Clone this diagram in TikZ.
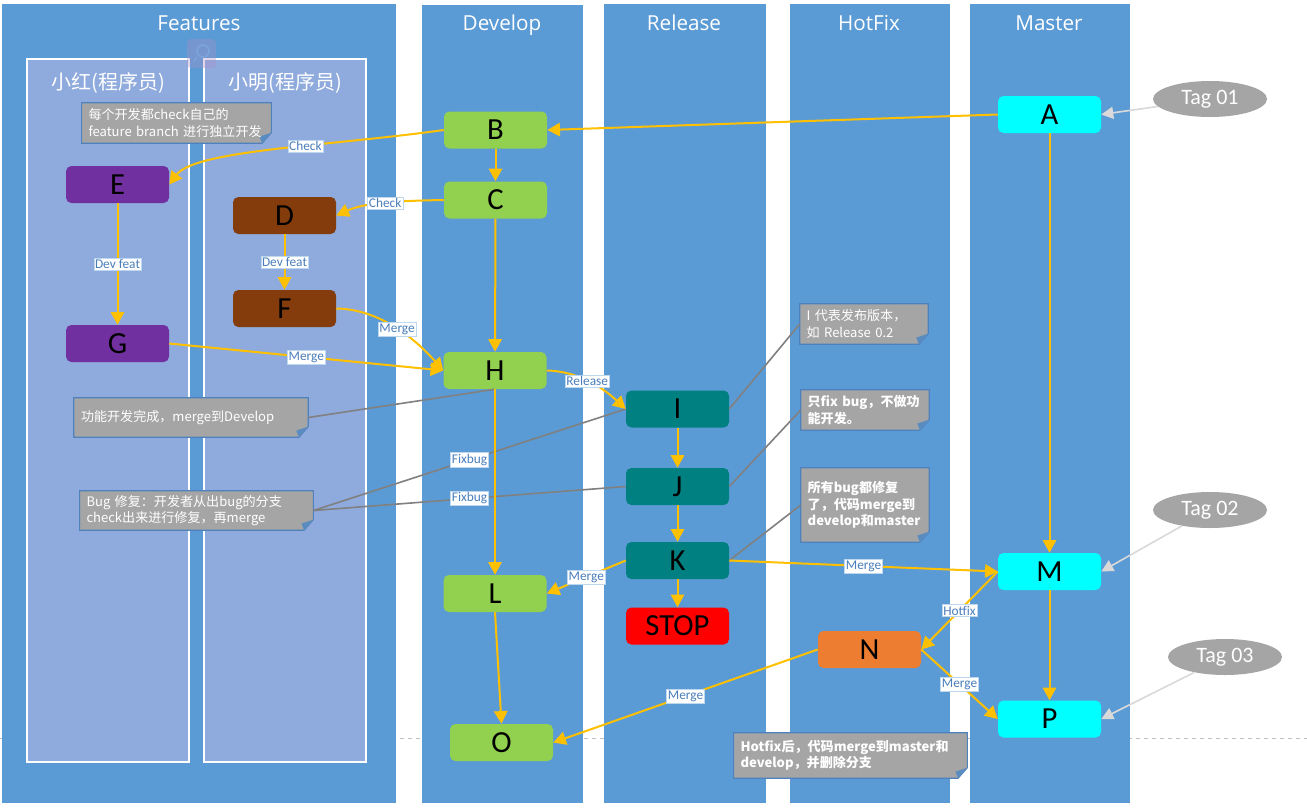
\documentclass[tikz,border=0pt]{standalone}
\usepackage{fontspec}
\setmainfont{Carlito}
\newfontfamily\cjk{Noto Sans CJK SC}
\newfontfamily\titlef{Open Sans}
\usetikzlibrary{arrows.meta,shapes.geometric}
\pgfdeclarelayer{lanes}
\pgfdeclarelayer{notebg}
\pgfsetlayers{lanes,notebg,main}
\definecolor{lanec}{HTML}{5B9BD5}
\definecolor{sublanec}{HTML}{8FAADC}
\definecolor{greenc}{HTML}{92D050}
\definecolor{purplec}{HTML}{7030A0}
\definecolor{brownc}{HTML}{843C0C}
\definecolor{tealc}{HTML}{008080}
\definecolor{redc}{HTML}{FF0000}
\definecolor{orangec}{HTML}{ED7D31}
\definecolor{cyanc}{HTML}{00FFFF}
\definecolor{flowc}{HTML}{FFC000}
\definecolor{linkc}{HTML}{808080}
\definecolor{notec}{HTML}{A5A5A5}
\definecolor{noteborder}{HTML}{4F81BD}
\definecolor{foldc}{HTML}{5B8CC0}
\definecolor{tagc}{HTML}{A5A5A5}
\definecolor{tagline}{HTML}{D9D9D9}
\definecolor{lbltext}{HTML}{4A7EBB}
\definecolor{lblborder}{HTML}{BDD7EE}
\definecolor{dashc}{HTML}{BFBFBF}
\definecolor{magc}{HTML}{A98FC8}
\definecolor{magline}{HTML}{7FB0E0}
\tikzset{
 box/.style={rectangle, rounded corners=4pt, minimum width=77.25pt, minimum height=27.75pt, inner sep=0pt, font=\fontsize{23}{24}\selectfont, text=black},
 flow/.style={draw=flowc, line width=1.5pt, -{Triangle[length=9.5pt,width=10pt]}},
 link/.style={draw=linkc, line width=1.2pt},
 lbl/.style={fill=white, draw=lblborder, line width=0.3pt, inner sep=1pt, text=lbltext, font=\fontsize{10}{11}\selectfont},
 tag/.style={ellipse, fill=tagc, minimum width=85.5pt, minimum height=27pt, inner sep=0pt, text=white, font=\fontsize{16.5}{17}\selectfont},
 tagarrow/.style={draw=tagline, line width=1.2pt, -{Triangle[length=9pt,width=9pt]}},
 note/.style={rectangle, inner xsep=5pt, inner ysep=2pt, text=white, align=left, font=\cjk\fontsize{9.8}{12.2}\selectfont},
 notefill/.style={fill=notec, draw=noteborder, line width=0.8pt},
 lanetitle/.style={anchor=base, text=white, font=\titlef\fontsize{15.5}{17}\selectfont},
 subtitle/.style={anchor=base, text=white, font=\cjk\fontsize{15}{17}\selectfont},
}
% name, cx, cy, width(pt), height(pt), text width(pt), text
\newcommand\mknote[7]{%
 \node[note, minimum width=#4pt, minimum height=#5pt, text width=#6pt] (#1) at (#2,#3) {#7};
 \begin{pgfonlayer}{notebg}
 \filldraw[notefill] (#1.north west) -- (#1.north east) -- ([yshift=8pt]#1.south east) -- ([xshift=-7pt]#1.south east) -- (#1.south west) -- cycle;
 \fill[foldc] ([yshift=8pt]#1.south east) -- ([xshift=-9pt,yshift=5pt]#1.south east) -- ([xshift=-7pt]#1.south east) -- cycle;
 \end{pgfonlayer}}
\begin{document}
\begin{tikzpicture}[x=0.75pt,y=-0.75pt]
\useasboundingbox (0,0) rectangle (1307,808);
\begin{pgfonlayer}{lanes}
\fill[white] (0,0) rectangle (1307,808);
\draw[dashc, dashed, line width=0.6pt] (0,738) -- (1307,738);
\fill[lanec] (2,4) rectangle (396,803);
\fill[lanec] (422,5) rectangle (583,803);
\fill[lanec] (604,4) rectangle (766,803);
\fill[lanec] (790,4) rectangle (950,803);
\fill[lanec] (970,4) rectangle (1130,803);
\filldraw[fill=sublanec, draw=white, line width=0.8pt] (27,59) rectangle (189,762);
\filldraw[fill=sublanec, draw=white, line width=0.8pt] (204,59) rectangle (366,762);
\fill[magc, opacity=0.35, rounded corners=3pt] (187,39) rectangle (216,68);
\draw[magline, opacity=0.6, line width=1.2pt] (203,51) circle (4.5pt);
\draw[magline, opacity=0.6, line width=1.2pt] (197,57) -- (194,61);
\end{pgfonlayer}
% lane titles
\node[lanetitle] (tFeat) at (199,30) {Features};
\node[lanetitle] (tDev) at (502,30) {Develop};
\node[lanetitle] (tRel) at (684,30) {Release};
\node[lanetitle] (tHot) at (869,30) {HotFix};
\node[lanetitle] (tMas) at (1049,30) {Master};
\node[subtitle] (tHong) at (108,89) {小红(程序员)};
\node[subtitle] (tMing) at (285,89) {小明(程序员)};
% nodes
\node[box, fill=cyanc] (A) at (1049.5,114.5) {A};
\node[box, fill=greenc] (B) at (495.5,130) {B};
\node[box, fill=greenc] (C) at (495.5,200) {C};
\node[box, fill=purplec] (E) at (117.5,184.5) {E};
\node[box, fill=brownc] (D) at (284.5,215.5) {D};
\node[box, fill=brownc] (F) at (284.5,308.5) {F};
\node[box, fill=purplec] (G) at (117.5,343.5) {G};
\node[box, fill=greenc] (H) at (495,370.5) {H};
\node[box, fill=tealc] (I) at (677.5,409) {I};
\node[box, fill=tealc] (J) at (677.5,486.5) {J};
\node[box, fill=tealc] (K) at (677.5,560.5) {K};
\node[box, fill=redc] (STOP) at (677.5,626) {STOP};
\node[box, fill=greenc] (L) at (495,593.5) {L};
\node[box, fill=cyanc] (M) at (1049.5,571.5) {M};
\node[box, fill=orangec] (N) at (869.5,649.5) {N};
\node[box, fill=greenc] (O) at (501.5,742.5) {O};
\node[box, fill=cyanc] (P) at (1049.5,719) {P};
% tags
\node[tag] (t1) at (1210,99) {Tag 01};
\node[tag] (t2) at (1210,510) {Tag 02};
\node[tag] (t3) at (1225,657) {Tag 03};
\draw[tagarrow] (t1) -- (A.east);
\draw[tagarrow] (t2) -- (M.east);
\draw[tagarrow] (t3) -- (P.east);
% notes
\mknote{n1}{176.5}{123}{141.75}{30}{132}{每个开发都check自己的\\feature branch 进行独立开发}
\mknote{n2}{191}{417.5}{175.5}{29.25}{165}{功能开发完成，merge到Develop}
\mknote{n3}{196.5}{510.5}{174.75}{29.25}{165}{Bug 修复：开发者从出bug的分支\\check出来进行修复，再merge}
\mknote{n4}{864}{324}{96}{30}{86}{I 代表发布版本，\\如 Release 0.2}
\mknote{n5}{865}{410}{96}{30}{86}{\bfseries 只fix bug，不做功\\\bfseries 能开发。}
\mknote{n6}{865}{505}{96}{55.5}{86}{\bfseries 所有bug都修复\\\bfseries 了，代码merge到\\\bfseries develop和master}
\mknote{n7}{850.5}{755.5}{174.75}{33.75}{165}{\bfseries Hotfix后，代码merge到master和\\\bfseries develop，并删除分支}
% note links
\draw[link] (n2.east) -- (H.south);
\draw[link] (n3.east) -- node[lbl]{Fixbug} (I.west);
\draw[link] (n3.east) -- node[lbl]{Fixbug} (J.west);
\draw[link] (n4.west) -- (I.east);
\draw[link] (n5.west) -- (J.east);
\draw[link] (n6.west) -- (K.east);
% flows
\draw[flow] (A.west) -- (B.east);
\draw[flow] (B.west) .. controls (330,146) and (195,150) .. node[lbl, pos=0.4]{Check} (E.east);
\draw[flow] (B) -- (C);
\draw[flow] (C.west) .. controls (380,201) and (360,205) .. node[lbl, pos=0.4]{Check} (D.east);
\draw[flow] (C) -- (H);
\draw[flow] (E) -- node[lbl]{Dev feat} (G);
\draw[flow] (D) -- node[lbl]{Dev feat} (F);
\draw[flow] (F.east) .. controls (375,309) and (410,333) .. node[lbl, pos=0.55]{Merge} (H.west);
\draw[flow] (G.east) -- node[lbl]{Merge} (H.west);
\draw[flow] (H.east) .. controls (575,371) and (600,385) .. node[lbl, pos=0.5]{Release} (I.west);
\draw[flow] (H) -- (L);
\draw[flow] (I) -- (J);
\draw[flow] (J) -- (K);
\draw[flow] (K) -- (STOP);
\draw[flow] (K.west) -- node[lbl]{Merge} (L.east);
\draw[flow] (K.east) -- node[lbl]{Merge} (M.west);
\draw[flow] (A) -- (M);
\draw[flow] (M.west) -- node[lbl]{Hotfix} (N.east);
\draw[flow] (M) -- (P);
\draw[flow] (N.east) -- node[lbl]{Merge} (P.west);
\draw[flow] (N.west) -- node[lbl]{Merge} (O.east);
\draw[flow] (L.south) -- (O.north);
\end{tikzpicture}
\end{document}
